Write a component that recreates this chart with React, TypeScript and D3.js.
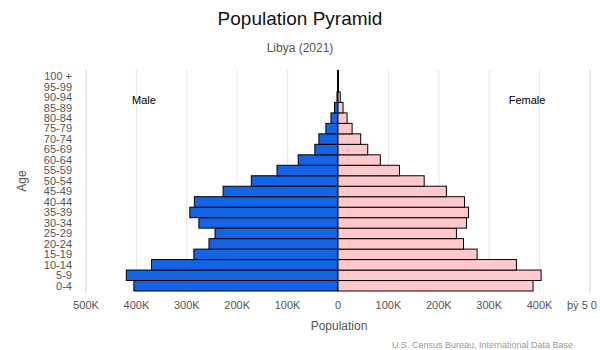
import React from "react";
import * as d3 from "d3";

const ageGroups = ["0-4","5-9","10-14","15-19","20-24","25-29","30-34","35-39","40-44","45-49","50-54","55-59","60-64","65-69","70-74","75-79","80-84","85-89","90-94","95-99","100 +"];
const maleValues = [405000,420000,370000,286000,256000,244000,276000,294000,285000,228000,172000,121000,79000,46000,38000,24000,14000,7000,2000,500,100];
const femaleValues = [387000,403000,354000,276000,249000,235000,255000,259000,251000,215000,171000,122000,84000,59000,45000,28000,18000,10000,4500,1000,100];
const tickValues = [-500000,-400000,-300000,-200000,-100000,0,100000,200000,300000,400000];
const tickLabels = ["500K","400K","300K","200K","100K","0","100K","200K","300K","400K"];
const rightTickLabel = "þÿ 5 0 0 K";

const W = 600, H = 350;
const font = "'Liberation Sans', Arial, Helvetica, sans-serif";

export default function App() {
  const x = d3.scaleLinear().domain([-500000, 500000]).range([86, 590]);
  const y = d3.scaleBand<string>().domain([...ageGroups].reverse()).range([71, 291]).padding(0);
  const gridVals = [...tickValues, 500000];
  return (
    <svg width={W} height={H} style={{ position: "absolute", left: 0, top: 0, background: "#fff" }} fontFamily={font}>
      <rect x={0} y={0} width={W} height={H} fill="#fff" />
      {gridVals.map((v, i) => (
        <line key={i} x1={x(v)} x2={x(v)} y1={70} y2={292}
          stroke={i === 0 || v === 500000 ? "#d3d6e0" : "#e6e6e6"} strokeWidth={1} />
      ))}
      {ageGroups.map((a, i) => (
        <rect key={"m" + a} x={x(-maleValues[i])} y={y(a)} width={x(0) - x(-maleValues[i])} height={y.bandwidth()}
          fill="#1464e6" stroke="#000" strokeWidth={1} />
      ))}
      {ageGroups.map((a, i) => (
        <rect key={"f" + a} x={x(0)} y={y(a)} width={x(femaleValues[i]) - x(0)} height={y.bandwidth()}
          fill="#ffc9cc" stroke="#000" strokeWidth={1} />
      ))}
      <line x1={x(0)} x2={x(0)} y1={70} y2={y("90-94")} stroke="#000" strokeWidth={2} />
      {ageGroups.map((a) => (
        <text key={"t" + a} x={72} y={(y(a) as number) + y.bandwidth() / 2} dy="0.35em" textAnchor="end" fontSize={11} fill="#555">{a}</text>
      ))}
      {tickValues.map((v, i) => (
        <text key={"x" + i} x={x(v)} y={309} textAnchor="middle" fontSize={11} fill="#555">{tickLabels[i]}</text>
      ))}
      <text x={567} y={309} textAnchor="start" fontSize={11} fill="#555">{rightTickLabel}</text>
      <text x={300} y={25} textAnchor="middle" fontSize={19} fill="#111">Population Pyramid</text>
      <text x={300} y={52} textAnchor="middle" fontSize={12} fill="#555">Libya (2021)</text>
      <text x={339} y={330} textAnchor="middle" fontSize={12} fill="#555">Population</text>
      <text transform="translate(26,181) rotate(-90)" textAnchor="middle" fontSize={12} fill="#555">Age</text>
      <text x={144} y={104} textAnchor="middle" fontSize={11} fill="#000">Male</text>
      <text x={527} y={104} textAnchor="middle" fontSize={11} fill="#000">Female</text>
      <text x={573} y={348} textAnchor="end" fontSize={9} fill="#999">U.S. Census Bureau, International Data Base</text>
    </svg>
  );
}
